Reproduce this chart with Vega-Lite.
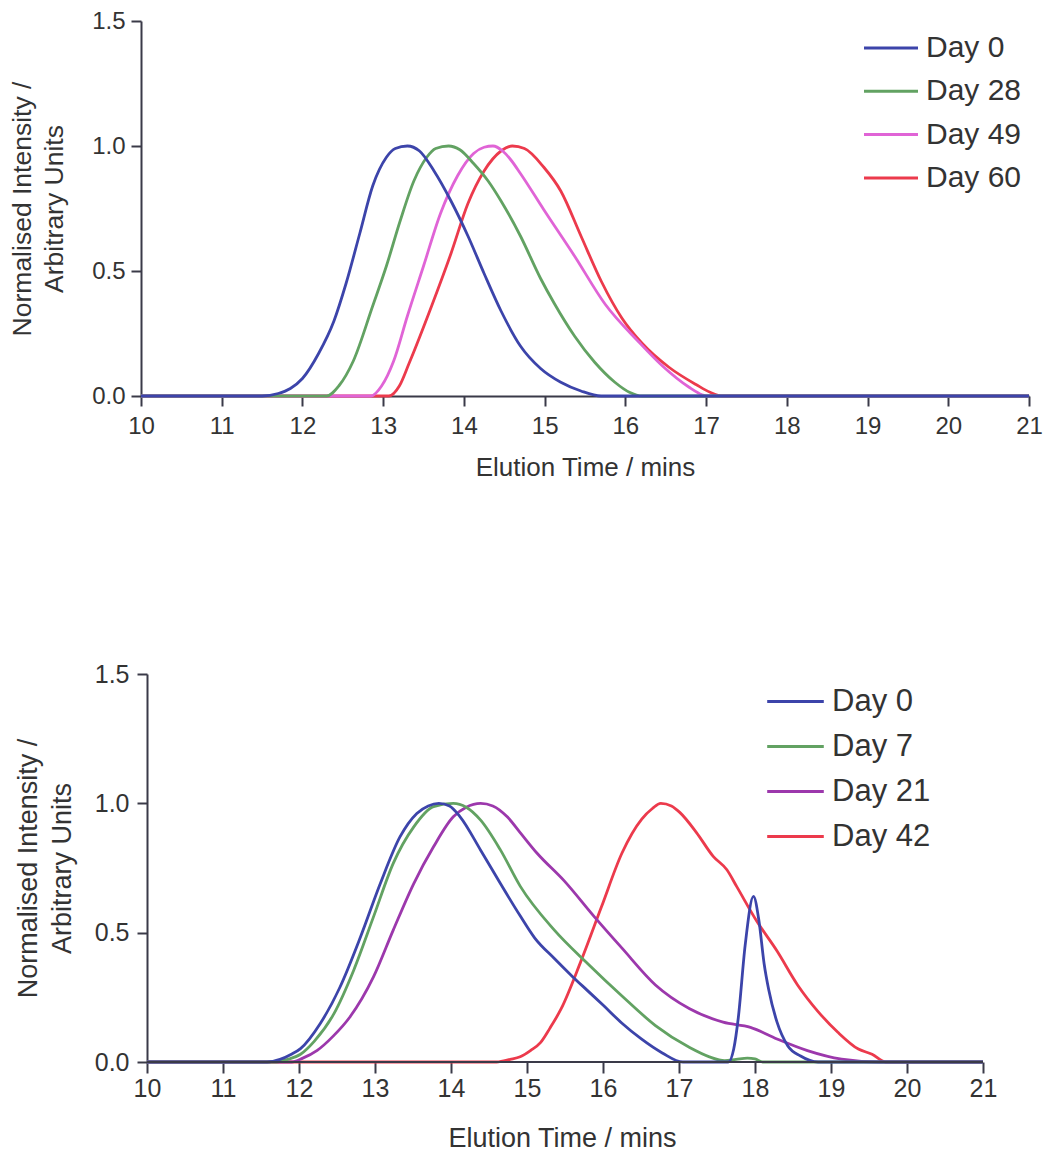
{
  "$schema": "https://vega.github.io/schema/vega-lite/v6.json",
  "background": "white",
  "padding": {"left": 9, "top": 9, "right": 5, "bottom": 5},
  "spacing": 278,
  "bounds": "flush",
  "config": {
    "view": {"stroke": null},
    "font": "Liberation Sans",
    "axis": {
      "grid": false,
      "labelFlush": false,
      "domainColor": "#3a3a48",
      "tickColor": "#3a3a48",
      "domainWidth": 2,
      "tickWidth": 2,
      "tickSize": 10,
      "labelColor": "#333333",
      "labelFont": "Liberation Sans",
      "labelFontSize": 24,
      "titleColor": "#333333",
      "titleFont": "Liberation Sans",
      "titleFontSize": 26,
      "titleFontWeight": "normal"
    },
    "legend": {
      "title": null,
      "orient": "none",
      "padding": 0,
      "labelFont": "Liberation Sans",
      "labelColor": "#333333",
      "symbolStrokeWidth": 3,
      "symbolSize": 400
    }
  },
  "resolve": {
    "scale": {"x": "independent", "y": "independent", "color": "independent"},
    "legend": {"color": "independent"},
    "axis": {"x": "independent", "y": "independent"}
  },
  "vconcat": [
    {
      "width": 888,
      "height": 375,
      "data": {"values": [
        {"day":"Day 60","time":10,"intensity":0},{"day":"Day 60","time":13.07,"intensity":0},{"day":"Day 60","time":13.2,"intensity":0.04},{"day":"Day 60","time":13.32,"intensity":0.13},{"day":"Day 60","time":13.6,"intensity":0.36},{"day":"Day 60","time":13.84,"intensity":0.57},{"day":"Day 60","time":14.05,"intensity":0.77},{"day":"Day 60","time":14.25,"intensity":0.9},{"day":"Day 60","time":14.46,"intensity":0.98},{"day":"Day 60","time":14.6,"intensity":1.0},{"day":"Day 60","time":14.75,"intensity":0.99},{"day":"Day 60","time":14.99,"intensity":0.915},{"day":"Day 60","time":15.2,"intensity":0.82},{"day":"Day 60","time":15.45,"intensity":0.64},{"day":"Day 60","time":15.7,"intensity":0.46},{"day":"Day 60","time":15.96,"intensity":0.31},{"day":"Day 60","time":16.21,"intensity":0.21},{"day":"Day 60","time":16.54,"intensity":0.115},{"day":"Day 60","time":16.88,"intensity":0.045},{"day":"Day 60","time":17.05,"intensity":0.015},{"day":"Day 60","time":17.21,"intensity":0},{"day":"Day 60","time":21,"intensity":0},
        {"day":"Day 49","time":10,"intensity":0},{"day":"Day 49","time":12.85,"intensity":0},{"day":"Day 49","time":12.98,"intensity":0.04},{"day":"Day 49","time":13.13,"intensity":0.14},{"day":"Day 49","time":13.3,"intensity":0.32},{"day":"Day 49","time":13.5,"intensity":0.52},{"day":"Day 49","time":13.71,"intensity":0.73},{"day":"Day 49","time":13.92,"intensity":0.88},{"day":"Day 49","time":14.12,"intensity":0.97},{"day":"Day 49","time":14.25,"intensity":0.995},{"day":"Day 49","time":14.36,"intensity":1.0},{"day":"Day 49","time":14.48,"intensity":0.98},{"day":"Day 49","time":14.58,"intensity":0.945},{"day":"Day 49","time":14.7,"intensity":0.89},{"day":"Day 49","time":14.99,"intensity":0.745},{"day":"Day 49","time":15.37,"intensity":0.56},{"day":"Day 49","time":15.75,"intensity":0.367},{"day":"Day 49","time":16.17,"intensity":0.215},{"day":"Day 49","time":16.46,"intensity":0.12},{"day":"Day 49","time":16.79,"intensity":0.035},{"day":"Day 49","time":16.95,"intensity":0.005},{"day":"Day 49","time":17.0,"intensity":0},{"day":"Day 49","time":21,"intensity":0},
        {"day":"Day 28","time":10,"intensity":0},{"day":"Day 28","time":12.3,"intensity":0},{"day":"Day 28","time":12.45,"intensity":0.04},{"day":"Day 28","time":12.63,"intensity":0.14},{"day":"Day 28","time":12.87,"intensity":0.36},{"day":"Day 28","time":13.04,"intensity":0.52},{"day":"Day 28","time":13.21,"intensity":0.7},{"day":"Day 28","time":13.38,"intensity":0.86},{"day":"Day 28","time":13.54,"intensity":0.955},{"day":"Day 28","time":13.65,"intensity":0.99},{"day":"Day 28","time":13.81,"intensity":1.0},{"day":"Day 28","time":13.95,"intensity":0.985},{"day":"Day 28","time":14.12,"intensity":0.93},{"day":"Day 28","time":14.3,"intensity":0.86},{"day":"Day 28","time":14.46,"intensity":0.78},{"day":"Day 28","time":14.7,"intensity":0.64},{"day":"Day 28","time":14.95,"intensity":0.47},{"day":"Day 28","time":15.12,"intensity":0.37},{"day":"Day 28","time":15.37,"intensity":0.24},{"day":"Day 28","time":15.62,"intensity":0.135},{"day":"Day 28","time":15.87,"intensity":0.055},{"day":"Day 28","time":16.05,"intensity":0.015},{"day":"Day 28","time":16.21,"intensity":0},{"day":"Day 28","time":21,"intensity":0},
        {"day":"Day 0","time":10,"intensity":0},{"day":"Day 0","time":11.5,"intensity":0},{"day":"Day 0","time":11.7,"intensity":0.01},{"day":"Day 0","time":11.85,"intensity":0.03},{"day":"Day 0","time":12,"intensity":0.07},{"day":"Day 0","time":12.2,"intensity":0.17},{"day":"Day 0","time":12.39,"intensity":0.3},{"day":"Day 0","time":12.54,"intensity":0.45},{"day":"Day 0","time":12.71,"intensity":0.65},{"day":"Day 0","time":12.87,"intensity":0.84},{"day":"Day 0","time":13.04,"intensity":0.955},{"day":"Day 0","time":13.15,"intensity":0.99},{"day":"Day 0","time":13.3,"intensity":1.0},{"day":"Day 0","time":13.45,"intensity":0.98},{"day":"Day 0","time":13.63,"intensity":0.9},{"day":"Day 0","time":13.84,"intensity":0.78},{"day":"Day 0","time":14.05,"intensity":0.64},{"day":"Day 0","time":14.25,"intensity":0.49},{"day":"Day 0","time":14.46,"intensity":0.34},{"day":"Day 0","time":14.7,"intensity":0.2},{"day":"Day 0","time":14.95,"intensity":0.11},{"day":"Day 0","time":15.2,"intensity":0.055},{"day":"Day 0","time":15.45,"intensity":0.02},{"day":"Day 0","time":15.7,"intensity":0},{"day":"Day 0","time":21,"intensity":0}
      ]},
      "mark": {"type": "line", "strokeWidth": 2.8, "interpolate": "monotone"},
      "encoding": {
        "x": {
          "field": "time", "type": "quantitative",
          "scale": {"domain": [10, 21], "nice": false, "zero": false},
          "axis": {"values": [10,11,12,13,14,15,16,17,18,19,20,21], "format": "d", "title": "Elution Time / mins", "labelPadding": 8, "titlePadding": 16}
        },
        "y": {
          "field": "intensity", "type": "quantitative",
          "scale": {"domain": [0, 1.5], "nice": false},
          "axis": {"values": [0, 0.5, 1, 1.5], "format": ".1f", "title": ["Normalised Intensity /", "Arbitrary Units"], "labelPadding": 6, "titlePadding": 23, "titleLineHeight": 32, "titleFontSize": 26.5}
        },
        "color": {
          "field": "day", "type": "nominal",
          "scale": {"domain": ["Day 0", "Day 28", "Day 49", "Day 60"], "range": ["#3c44aa", "#62a262", "#e064d6", "#ec3a4c"]},
          "legend": {"legendX": 735, "legendY": 12, "symbolType": "M-2.7,0H2.7", "labelFontSize": 30, "labelOffset": 20, "rowPadding": 13.3}
        }
      }
    },
    {
      "width": 842,
      "height": 388,
      "layer": [
        {
          "data": {"values": [
            {"day":"Day 42","time":10,"intensity":0},{"day":"Day 42","time":14.6,"intensity":0},{"day":"Day 42","time":14.78,"intensity":0.01},{"day":"Day 42","time":14.91,"intensity":0.02},{"day":"Day 42","time":15.05,"intensity":0.045},{"day":"Day 42","time":15.18,"intensity":0.076},{"day":"Day 42","time":15.3,"intensity":0.13},{"day":"Day 42","time":15.45,"intensity":0.206},{"day":"Day 42","time":15.71,"intensity":0.39},{"day":"Day 42","time":15.98,"intensity":0.6},{"day":"Day 42","time":16.25,"intensity":0.808},{"day":"Day 42","time":16.51,"intensity":0.939},{"day":"Day 42","time":16.65,"intensity":0.98},{"day":"Day 42","time":16.76,"intensity":1.0},{"day":"Day 42","time":16.9,"intensity":0.99},{"day":"Day 42","time":17.01,"intensity":0.965},{"day":"Day 42","time":17.23,"intensity":0.887},{"day":"Day 42","time":17.45,"intensity":0.795},{"day":"Day 42","time":17.63,"intensity":0.743},{"day":"Day 42","time":17.76,"intensity":0.678},{"day":"Day 42","time":18.02,"intensity":0.546},{"day":"Day 42","time":18.29,"intensity":0.429},{"day":"Day 42","time":18.56,"intensity":0.298},{"day":"Day 42","time":18.83,"intensity":0.195},{"day":"Day 42","time":19.09,"intensity":0.115},{"day":"Day 42","time":19.36,"intensity":0.05},{"day":"Day 42","time":19.54,"intensity":0.03},{"day":"Day 42","time":19.72,"intensity":0},{"day":"Day 42","time":21,"intensity":0},
            {"day":"Day 21","time":10,"intensity":0},{"day":"Day 21","time":11.9,"intensity":0},{"day":"Day 21","time":12.05,"intensity":0.015},{"day":"Day 21","time":12.24,"intensity":0.045},{"day":"Day 21","time":12.45,"intensity":0.1},{"day":"Day 21","time":12.67,"intensity":0.174},{"day":"Day 21","time":12.98,"intensity":0.329},{"day":"Day 21","time":13.24,"intensity":0.51},{"day":"Day 21","time":13.51,"intensity":0.69},{"day":"Day 21","time":13.77,"intensity":0.832},{"day":"Day 21","time":14.03,"intensity":0.948},{"day":"Day 21","time":14.2,"intensity":0.985},{"day":"Day 21","time":14.39,"intensity":1.0},{"day":"Day 21","time":14.55,"intensity":0.99},{"day":"Day 21","time":14.74,"intensity":0.948},{"day":"Day 21","time":14.91,"intensity":0.887},{"day":"Day 21","time":15.13,"intensity":0.808},{"day":"Day 21","time":15.49,"intensity":0.7},{"day":"Day 21","time":15.89,"intensity":0.56},{"day":"Day 21","time":16.25,"intensity":0.44},{"day":"Day 21","time":16.69,"intensity":0.298},{"day":"Day 21","time":17.14,"intensity":0.206},{"day":"Day 21","time":17.58,"intensity":0.154},{"day":"Day 21","time":17.94,"intensity":0.134},{"day":"Day 21","time":18.29,"intensity":0.089},{"day":"Day 21","time":18.69,"intensity":0.044},{"day":"Day 21","time":19.14,"intensity":0.011},{"day":"Day 21","time":19.63,"intensity":0},{"day":"Day 21","time":21,"intensity":0},
            {"day":"Day 7","time":10,"intensity":0},{"day":"Day 7","time":11.7,"intensity":0},{"day":"Day 7","time":11.85,"intensity":0.01},{"day":"Day 7","time":12.02,"intensity":0.03},{"day":"Day 7","time":12.2,"intensity":0.08},{"day":"Day 7","time":12.46,"intensity":0.187},{"day":"Day 7","time":12.72,"intensity":0.355},{"day":"Day 7","time":12.98,"intensity":0.561},{"day":"Day 7","time":13.24,"intensity":0.768},{"day":"Day 7","time":13.51,"intensity":0.909},{"day":"Day 7","time":13.77,"intensity":0.987},{"day":"Day 7","time":14.03,"intensity":1.0},{"day":"Day 7","time":14.2,"intensity":0.985},{"day":"Day 7","time":14.39,"intensity":0.935},{"day":"Day 7","time":14.65,"intensity":0.82},{"day":"Day 7","time":14.91,"intensity":0.68},{"day":"Day 7","time":15.36,"intensity":0.51},{"day":"Day 7","time":15.8,"intensity":0.38},{"day":"Day 7","time":16.25,"intensity":0.255},{"day":"Day 7","time":16.69,"intensity":0.141},{"day":"Day 7","time":17.14,"intensity":0.056},{"day":"Day 7","time":17.4,"intensity":0.02},{"day":"Day 7","time":17.6,"intensity":0.005},{"day":"Day 7","time":17.75,"intensity":0.01},{"day":"Day 7","time":17.9,"intensity":0.015},{"day":"Day 7","time":18.0,"intensity":0.012},{"day":"Day 7","time":18.1,"intensity":0},{"day":"Day 7","time":21,"intensity":0},
            {"day":"Day 0","time":10,"intensity":0},{"day":"Day 0","time":11.58,"intensity":0},{"day":"Day 0","time":11.75,"intensity":0.01},{"day":"Day 0","time":11.9,"intensity":0.03},{"day":"Day 0","time":12.02,"intensity":0.052},{"day":"Day 0","time":12.28,"intensity":0.149},{"day":"Day 0","time":12.54,"intensity":0.29},{"day":"Day 0","time":12.81,"intensity":0.484},{"day":"Day 0","time":13.07,"intensity":0.69},{"day":"Day 0","time":13.33,"intensity":0.871},{"day":"Day 0","time":13.55,"intensity":0.961},{"day":"Day 0","time":13.7,"intensity":0.99},{"day":"Day 0","time":13.84,"intensity":1.0},{"day":"Day 0","time":13.98,"intensity":0.99},{"day":"Day 0","time":14.12,"intensity":0.948},{"day":"Day 0","time":14.39,"intensity":0.819},{"day":"Day 0","time":14.65,"intensity":0.69},{"day":"Day 0","time":14.91,"intensity":0.565},{"day":"Day 0","time":15.1,"intensity":0.48},{"day":"Day 0","time":15.36,"intensity":0.4},{"day":"Day 0","time":15.6,"intensity":0.33},{"day":"Day 0","time":15.8,"intensity":0.275},{"day":"Day 0","time":16.0,"intensity":0.22},{"day":"Day 0","time":16.25,"intensity":0.15},{"day":"Day 0","time":16.5,"intensity":0.09},{"day":"Day 0","time":16.78,"intensity":0.035},{"day":"Day 0","time":17.05,"intensity":0},{"day":"Day 0","time":17.65,"intensity":0},{"day":"Day 0","time":17.72,"intensity":0.05},{"day":"Day 0","time":17.78,"intensity":0.17},{"day":"Day 0","time":17.87,"intensity":0.45},{"day":"Day 0","time":17.98,"intensity":0.64},{"day":"Day 0","time":18.05,"intensity":0.55},{"day":"Day 0","time":18.12,"intensity":0.38},{"day":"Day 0","time":18.18,"intensity":0.28},{"day":"Day 0","time":18.29,"intensity":0.154},{"day":"Day 0","time":18.43,"intensity":0.063},{"day":"Day 0","time":18.6,"intensity":0.023},{"day":"Day 0","time":18.83,"intensity":0},{"day":"Day 0","time":21,"intensity":0}
          ]},
          "mark": {"type": "line", "strokeWidth": 2.8, "interpolate": "monotone"},
          "encoding": {
            "x": {
              "field": "time", "type": "quantitative",
              "scale": {"domain": [9.92105, 21], "nice": false, "zero": false},
              "axis": {"values": [10,11,12,13,14,15,16,17,18,19,20,21], "format": "d", "title": "Elution Time / mins", "domain": false, "labelFontSize": 25, "titleFontSize": 27, "tickSize": 11, "labelPadding": 3, "titlePadding": 24}
            },
            "y": {
              "field": "intensity", "type": "quantitative",
              "scale": {"domain": [0, 1.5], "nice": false},
              "axis": {"values": [0, 0.5, 1, 1.5], "format": ".1f", "title": ["Normalised Intensity /", "Arbitrary Units"], "offset": -6, "labelFontSize": 25, "titleFontSize": 27, "labelPadding": 8, "titlePadding": 18, "titleLineHeight": 34}
            },
            "color": {
              "field": "day", "type": "nominal",
              "scale": {"domain": ["Day 0", "Day 7", "Day 21", "Day 42"], "range": ["#3c44aa", "#62a262", "#9c38ac", "#ec3a4c"]},
              "legend": {"legendX": 639, "legendY": 12, "symbolType": "M-2.83,0H2.83", "labelFontSize": 31, "labelOffset": 21, "rowPadding": 13}
            }
          }
        },
        {
          "data": {"values": [{}]},
          "mark": {"type": "rule", "color": "#3a3a48", "strokeWidth": 2},
          "encoding": {
            "x": {"datum": 10},
            "x2": {"datum": 21},
            "y": {"datum": 0}
          }
        }
      ]
    }
  ]
}
